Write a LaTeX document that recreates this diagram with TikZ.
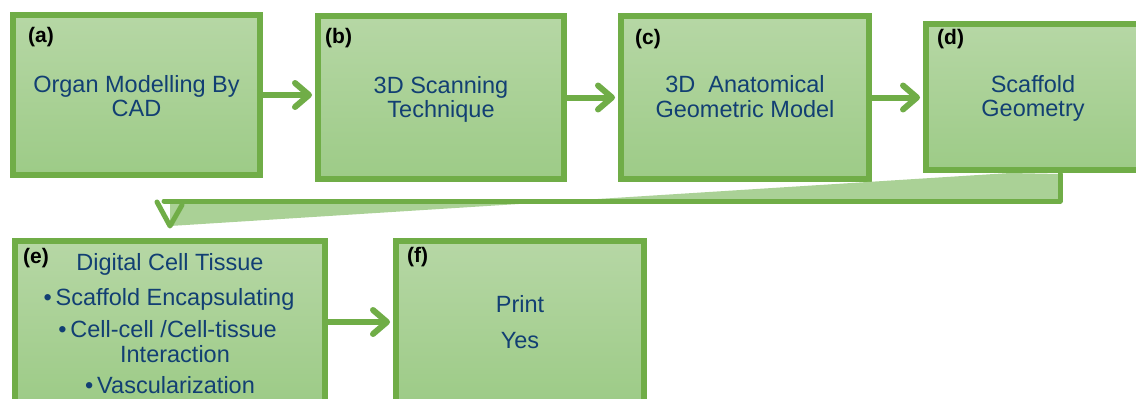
\documentclass[tikz,border=0pt]{standalone}
\usepackage{fontspec}
\setmainfont{Liberation Sans}
\usetikzlibrary{arrows.meta}
\definecolor{gborder}{HTML}{70AD47}
\definecolor{gtop}{HTML}{B6D7A5}
\definecolor{gbot}{HTML}{9DCB87}
\definecolor{gwedge}{HTML}{AAD196}
\definecolor{tblue}{HTML}{123F73}
\begin{document}
\begin{tikzpicture}[x=1pt,y=-1pt,
  box/.style={draw=gborder, line width=6pt, top color=gtop, bottom color=gbot, inner sep=0pt},
  txt/.style={font=\fontsize{23.5}{25}\selectfont, text=tblue, anchor=base, inner sep=0pt},
  lab/.style={font=\fontsize{21}{24}\selectfont\bfseries, text=black, anchor=base west, inner sep=0pt},
  conn/.style={draw=gborder, line width=6pt, -{Straight Barb[length=14pt,width=24pt,round]}, shorten >=3pt},
  ribbon/.style={draw=gborder, line width=5pt, line cap=round, line join=round}]
\useasboundingbox (0,0) rectangle (1136,399);
\clip (0,0) rectangle (1136,399);
\fill[white] (0,0) rectangle (1136,399);

% boxes
\node[box, minimum width=247pt, minimum height=160pt] (a) at (136.5,95) {};
\node[box, minimum width=246pt, minimum height=163pt] (b) at (441,97.5) {};
\node[box, minimum width=248pt, minimum height=163pt] (c) at (745,97.5) {};
\node[box, minimum width=214pt, minimum height=146pt] (d) at (1033,97) {};
\node[box, minimum width=310pt, minimum height=162pt] (e) at (170,322) {};
\node[box, minimum width=248pt, minimum height=162pt] (f) at (520,322) {};

% labels
\node[lab] (la) at (28,42) {(a)};
\node[lab] (lb) at (325,43) {(b)};
\node[lab] (lc) at (635,44) {(c)};
\node[lab] (ld) at (937,44) {(d)};
\node[lab] (le) at (23,263) {(e)};
\node[lab] (lf) at (407,262) {(f)};

% texts
\node[txt] (ta1) at (136.5,92) {Organ Modelling By};
\node[txt] (ta2) at (136.5,116) {CAD};
\node[txt] (tb1) at (441,93) {3D Scanning};
\node[txt] (tb2) at (441,117) {Technique};
\node[txt] (tc1) at (745,92) {3D\ \ Anatomical};
\node[txt] (tc2) at (745,117) {Geometric Model};
\node[txt] (td1) at (1033,92) {Scaffold};
\node[txt] (td2) at (1033,116) {Geometry};
\node[txt] (te1) at (170,270) {Digital Cell Tissue};
\node[txt] (te2) at (169,305) {•\,Scaffold Encapsulating};
\node[txt] (te3) at (167.5,337) {•\,Cell-cell /Cell-tissue};
\node[txt] (te4) at (175,362) {Interaction};
\node[txt] (te5) at (170,393) {•\,Vascularization};
\node[txt] (tf1) at (520,312) {Print};
\node[txt] (tf2) at (520,348) {Yes};

% straight connectors
\draw[conn] (a.east) -- (a.east -| b.west);
\draw[conn] (b.east) -- (b.east -| c.west);
\draw[conn] (c.east) -- (c.east -| d.west);
\draw[conn] (e.east) -- (e.east -| f.west);

% bent ribbon connector from d to e
\coordinate (wdiag) at (1010,173);
\coordinate (wtr) at (1060,174);
\coordinate (wbr) at (1060,201);
\coordinate (wmid) at (170,201);
\coordinate (wend) at (164,201);
\coordinate (wtip) at (170,226);
\coordinate (warmL) at (157,202);
\coordinate (warmR) at (182,205);
\fill[gwedge] (wdiag) -- (wtr) -- (wbr) -- (wmid) -- (wtip) -- cycle;
\draw[ribbon] (wtr) -- (wbr) -- (wend);
\draw[ribbon] (warmL) -- (wtip) -- (warmR);
\end{tikzpicture}
\end{document}
